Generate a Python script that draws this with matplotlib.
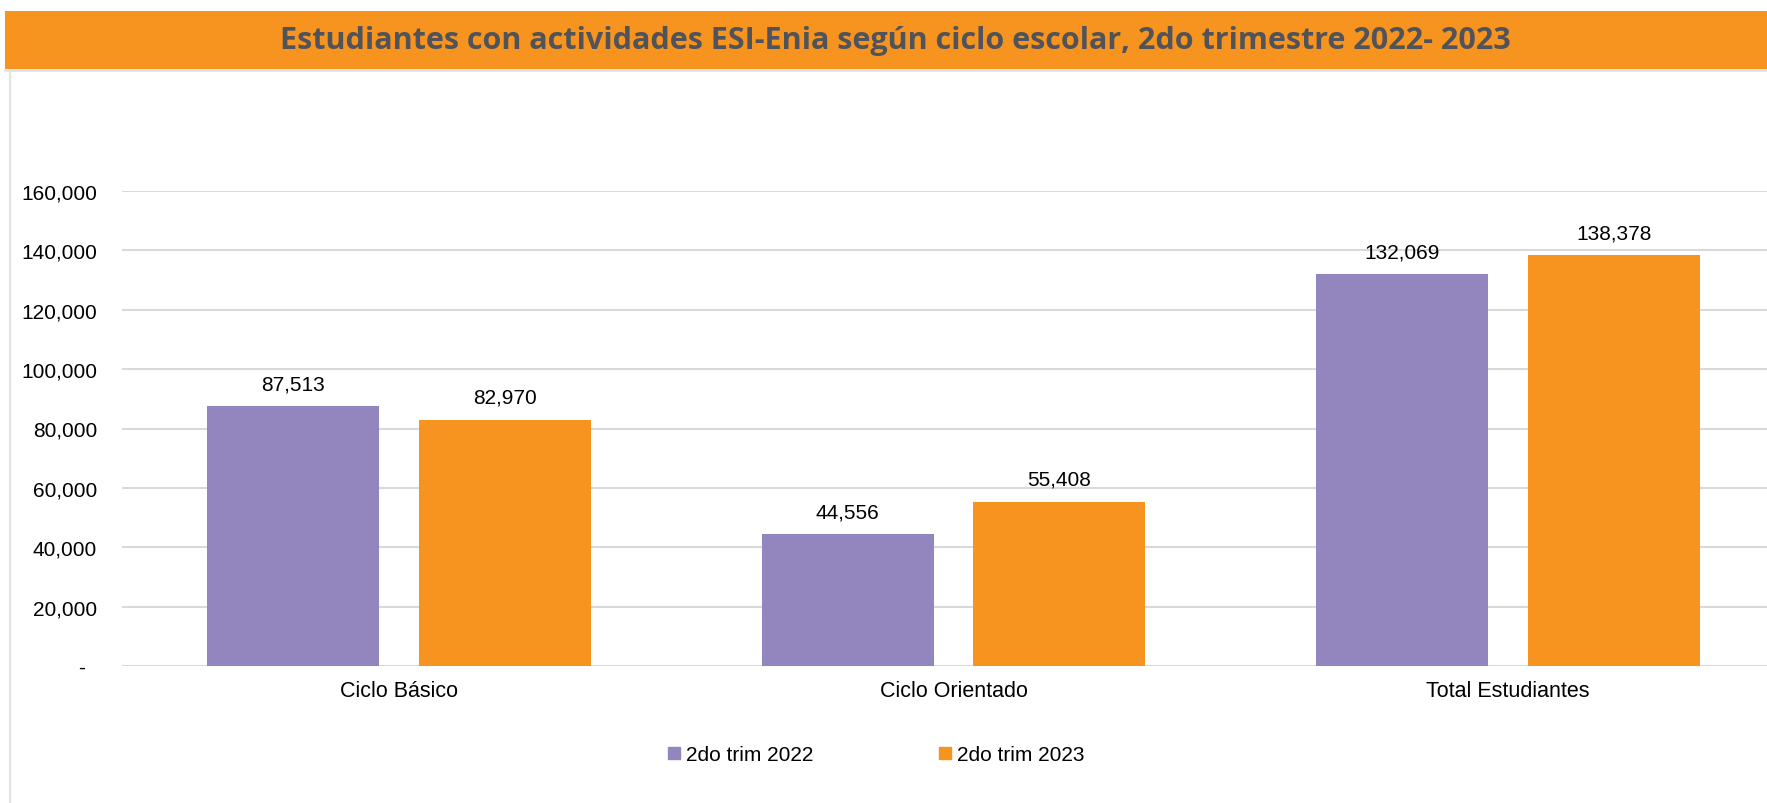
"""Estudiantes con actividades ESI-Enia por ciclo escolar."""

import matplotlib

matplotlib.use("Agg")
from matplotlib import font_manager  # noqa: E402
from matplotlib import pyplot as plt  # noqa: E402
from matplotlib.lines import Line2D  # noqa: E402
from matplotlib.patches import Rectangle  # noqa: E402
from matplotlib.ticker import FuncFormatter  # noqa: E402

categories = ["Ciclo Básico", "Ciclo Orientado", "Total Estudiantes"]
series_names = ["2do trim 2022", "2do trim 2023"]
values_2022 = [87513, 44556, 132069]
values_2023 = [82970, 55408, 138378]
y_ticks = [0, 20000, 40000, 60000, 80000, 100000, 120000, 140000, 160000]

PURPLE = "#9385BE"
ORANGE = "#F7941F"
GRID = "#D9D9D9"
TITLE_COLOR = "#50535A"

W, H = 1767, 804
available = {f.name for f in font_manager.fontManager.ttflist}
body_font = "Liberation Sans" if "Liberation Sans" in available else "DejaVu Sans"
plt.rcParams["font.family"] = [body_font, "DejaVu Sans"]

fig = plt.figure(figsize=(W / 100, H / 100), dpi=100)

# banner and frame
fig.patches.append(Rectangle((5 / W, 1 - 70 / H), 1, 58 / H, transform=fig.transFigure,
                             facecolor=ORANGE, edgecolor="none", zorder=0))
fig.add_artist(Line2D([5 / W, 1], [1 - 71 / H] * 2, transform=fig.transFigure, color="#E3E3E3", lw=2))
fig.add_artist(Line2D([10 / W] * 2, [0, 1 - 71 / H], transform=fig.transFigure, color="#E3E3E3", lw=1.5))
fig.text(895 / W, 1 - 41 / H, "Estudiantes con actividades ESI-Enia según ciclo escolar, 2do trimestre 2022- 2023",
         ha="center", va="center", fontsize=22, fontweight="bold", color=TITLE_COLOR,
         family=["Open Sans", "DejaVu Sans"])

left, right, base, top = 122, 1785, 667, 192
ax = fig.add_axes([left / W, 1 - base / H, (right - left) / W, (base - top) / H])

x = list(range(len(categories)))
offset, width = 0.191, 0.31
bars_a = ax.bar([i - offset for i in x], values_2022, width, color=PURPLE, zorder=3)
bars_b = ax.bar([i + offset for i in x], values_2023, width, color=ORANGE, zorder=3)
for bars in (bars_a, bars_b):
    for rect in bars:
        ax.annotate(f"{rect.get_height():,.0f}", (rect.get_x() + rect.get_width() / 2, rect.get_height()),
                    xytext=(0, 16), textcoords="offset points", ha="center", va="center",
                    fontsize=15, color="#000000")

ax.set_xlim(-0.5, 2.5)
ax.set_ylim(0, 160000)
ax.set_yticks(y_ticks)
ax.yaxis.set_major_formatter(FuncFormatter(lambda v, _: "-  " if v == 0 else f"{v:,.0f}"))
ax.set_xticks(x)
ax.set_xticklabels(categories)
ax.tick_params(axis="both", length=0, labelsize=15, colors="#000000")
ax.tick_params(axis="y", pad=18)
ax.tick_params(axis="x", pad=10, labelsize=15.5)
ax.grid(axis="y", color=GRID, lw=1.5, zorder=0)
for spine in ax.spines.values():
    spine.set_visible(False)

handles = [Line2D([], [], marker="s", linestyle="none", markersize=8, color=c) for c in (PURPLE, ORANGE)]
fig.legend(handles, series_names, loc="center", bbox_to_anchor=(876 / W, 1 - 756 / H), ncol=2,
           frameon=False, fontsize=15, handlelength=0.6, handletextpad=0.3, columnspacing=6.0)

plt.savefig("out.png", dpi=100)
plt.close()
